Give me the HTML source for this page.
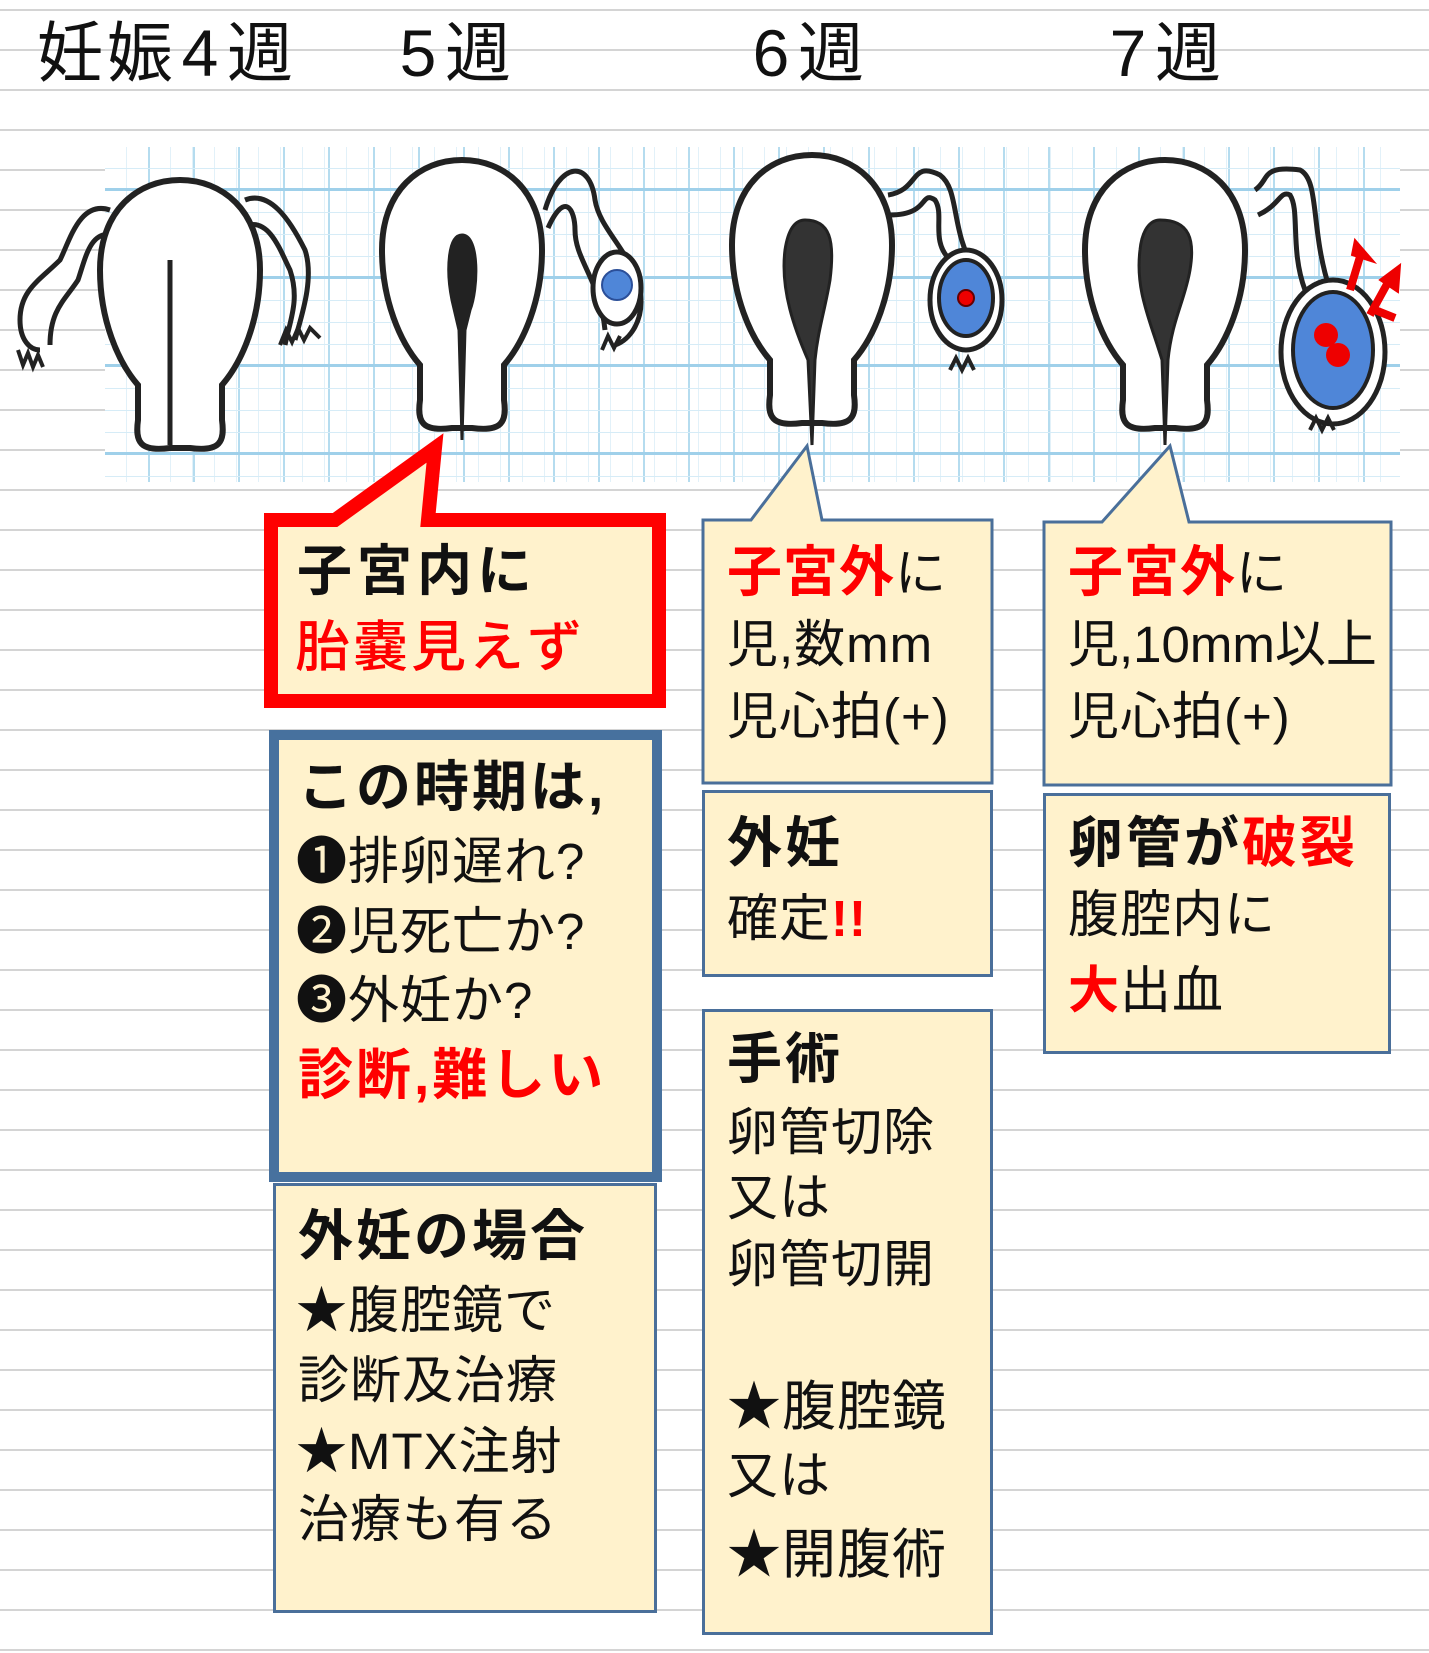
<!DOCTYPE html>
<html><head><meta charset="utf-8"><style>
html,body{margin:0;padding:0}
body{width:1429px;height:1653px;position:relative;overflow:hidden;background:#fff;
background-image:repeating-linear-gradient(to bottom,transparent 0,transparent 9px,#d4d4d4 9px,#d4d4d4 11px,transparent 11px,transparent 40px);
font-family:"Liberation Sans","Noto Sans CJK JP",sans-serif;}
.grid{position:absolute;left:105px;top:147px;width:1295px;height:335px;background-color:#fff;
background-image:
repeating-linear-gradient(to bottom,transparent 0,transparent 41px,#9fd0ea 41px,#9fd0ea 44px,transparent 44px,transparent 88px),
repeating-linear-gradient(to bottom,transparent 0,transparent 21px,#d6ecf7 21px,#d6ecf7 22px),
repeating-linear-gradient(to right,transparent 0,transparent 43px,#b5dcef 43px,#b5dcef 45px),
repeating-linear-gradient(to right,transparent 0,transparent 21px,#e2f1f9 21px,#e2f1f9 22px);}
.t{position:absolute;font-size:51px;line-height:60px;white-space:nowrap;color:#111;letter-spacing:1px}
.b{font-weight:bold;font-size:55px;letter-spacing:3px}
.t .b{font-size:inherit;letter-spacing:inherit}
.r{color:#f00}
.h{position:absolute;font-size:66px;line-height:70px;top:18px;color:#111;white-space:nowrap;letter-spacing:4px}
.box{position:absolute;background:#fff2cc;box-sizing:border-box;border:3px solid #4a6f9a}
</style></head><body>
<div class="grid"></div>
<div class="h" style="left:37px">妊娠<span style="display:inline-block;width:50px;text-align:center">4</span>週</div>
<div class="h" style="left:395px"><span style="display:inline-block;width:50px;text-align:center">5</span>週</div>
<div class="h" style="left:748px"><span style="display:inline-block;width:50px;text-align:center">6</span>週</div>
<div class="h" style="left:1105px"><span style="display:inline-block;width:50px;text-align:center">7</span>週</div>

<svg width="1429" height="500" style="position:absolute;left:0;top:0" xmlns="http://www.w3.org/2000/svg">
<defs>
<path id="u" d="M -10 268 C -40 272 -45 262 -42 240 L -42 205 C -62 182 -80 140 -80 90 C -80 30 -42 0 0 0 C 42 0 80 30 80 90 C 80 140 62 182 42 205 L 42 240 C 45 262 40 272 10 268 Z" fill="#fff" stroke="#222" stroke-width="6"/>
</defs>
<g fill="none" stroke="#222" stroke-width="5">
<path d="M 110 210 C 80 200 70 240 60 260 C 40 280 20 290 20 320 C 20 340 30 350 40 350"/>
<path d="M 112 235 C 90 230 85 260 78 280 C 65 300 50 310 50 345"/>
<path d="M 245 200 C 270 190 290 220 305 250 C 315 280 300 320 295 340"/>
<path d="M 248 225 C 270 220 280 250 290 270 C 300 300 290 320 285 345"/>
<path d="M 545 210 C 560 160 590 160 595 200 C 600 230 630 250 640 290 C 645 320 630 340 615 345"/>
<path d="M 548 228 C 565 190 575 210 575 230 C 575 260 600 280 605 330"/>
<path d="M 888 195 C 920 190 910 160 940 175 C 960 190 950 230 975 270"/>
<path d="M 890 215 C 930 215 920 190 935 200 C 945 215 930 240 950 260"/>
<path d="M 1255 190 C 1270 180 1260 165 1300 170 C 1320 180 1310 230 1330 290"/>
<path d="M 1258 215 C 1280 205 1280 190 1290 195 C 1300 210 1290 250 1305 290"/>
</g>
<ellipse cx="617" cy="288" rx="24" ry="36" fill="#fff" stroke="#222" stroke-width="5"/>
<circle cx="617" cy="285" r="15" fill="#4f86d8" stroke="#2b4f99" stroke-width="2"/>
<ellipse cx="966" cy="300" rx="36" ry="50" fill="#fff" stroke="#222" stroke-width="5"/>
<ellipse cx="966" cy="298" rx="27" ry="38" fill="#4f86d8" stroke="#222" stroke-width="4"/>
<circle cx="966" cy="298" r="8" fill="#e00" stroke="#600" stroke-width="2"/>
<ellipse cx="1333" cy="352" rx="52" ry="72" fill="#fff" stroke="#222" stroke-width="5"/>
<ellipse cx="1333" cy="350" rx="40" ry="58" fill="#4f86d8" stroke="#222" stroke-width="4"/>
<circle cx="1326" cy="335" r="12" fill="#e00"/><circle cx="1338" cy="355" r="12" fill="#e00"/>
<g stroke="#e00" stroke-width="8" fill="#e00">
<line x1="1350" y1="290" x2="1362" y2="250"/><polygon points="1355,240 1374,262 1352,255" stroke-width="2"/>
<line x1="1370" y1="315" x2="1392" y2="275"/><polygon points="1400,265 1398,292 1380,280" stroke-width="2"/>
<line x1="1375" y1="310" x2="1395" y2="318"/>
</g>
<g stroke="#222" stroke-width="4" fill="none">
<path d="M 18 350 l 5 15 l 5 -12 l 5 14 l 5 -12 l 5 12"/>
<path d="M 280 345 l 6 -15 l 6 12 l 6 -14 l 6 12 l 6 -12 l 10 10"/>
<path d="M 602 350 l 6 -14 l 6 12 l 6 -12"/>
<path d="M 950 370 l 6 -12 l 6 12 l 6 -12 l 6 12"/>
<path d="M 1310 430 l 6 -12 l 6 12 l 6 -12 l 6 12"/>
</g>
<use href="#u" x="180" y="180"/>
<use href="#u" x="462" y="160"/>
<use href="#u" x="812" y="155"/>
<use href="#u" x="1165" y="160"/>
<line x1="170" y1="260" x2="170" y2="445" stroke="#222" stroke-width="5"/>
<path d="M 462 235 C 480 235 478 290 470 310 L 465 330 L 462 440 L 459 330 L 452 300 C 446 270 448 235 462 235 Z" fill="#222" stroke="#222" stroke-width="3"/>
<path d="M 805 220 C 830 220 835 240 830 280 C 825 310 818 330 815 360 L 812 445 L 808 360 C 795 330 780 290 785 250 C 788 230 795 220 805 220 Z" fill="#333" stroke="#222" stroke-width="3"/>
<path d="M 1160 220 C 1190 220 1195 240 1190 270 C 1185 300 1172 320 1168 360 L 1165 445 L 1162 360 C 1150 320 1135 290 1140 250 C 1142 230 1150 220 1160 220 Z" fill="#333" stroke="#222" stroke-width="3"/>
</svg>

<svg width="1429" height="800" style="position:absolute;left:0;top:0" xmlns="http://www.w3.org/2000/svg">
<path d="M 271 520 L 335 520 L 435 448 L 428 520 L 659 520 L 659 701 L 271 701 Z" fill="#fff2cc" stroke="#f00" stroke-width="14" stroke-linejoin="miter"/>
<path d="M 703 520 L 751 520 L 807 446 L 822 520 L 992 520 L 992 783 L 703 783 Z" fill="#fff2cc" stroke="#4a6f9a" stroke-width="3"/>
<path d="M 1044 522 L 1102 522 L 1170 446 L 1189 522 L 1391 522 L 1391 785 L 1044 785 Z" fill="#fff2cc" stroke="#4a6f9a" stroke-width="3"/>
</svg>

<div class="t b" style="left:297px;top:541px;letter-spacing:5px">子宮内に</div>
<div class="t r" style="left:295px;top:617px;font-size:55px;letter-spacing:3px;font-weight:500">胎嚢見えず</div>

<div class="box" style="left:269px;top:730px;width:393px;height:452px;border:10px solid #47719e"></div>
<div class="t b" style="left:298px;top:757px">この時期は,</div>
<div class="t" style="left:296px;top:832px">❶排卵遅れ?</div>
<div class="t" style="left:296px;top:902px">❷児死亡か?</div>
<div class="t" style="left:296px;top:971px">❸外妊か?</div>
<div class="t r b" style="left:298px;top:1045px">診断,難しい</div>

<div class="box" style="left:273px;top:1183px;width:384px;height:430px"></div>
<div class="t b" style="left:298px;top:1206px">外妊の場合</div>
<div class="t" style="left:296px;top:1281px">★腹腔鏡で</div>
<div class="t" style="left:298px;top:1351px">診断及治療</div>
<div class="t" style="left:296px;top:1422px">★MTX注射</div>
<div class="t" style="left:298px;top:1490px">治療も有る</div>

<div class="t" style="left:727px;top:542px"><span class="r b" style="font-size:55px">子宮外</span>に</div>
<div class="t" style="left:727px;top:615px">児,数mm</div>
<div class="t" style="left:727px;top:687px">児心拍(+)</div>

<div class="box" style="left:702px;top:790px;width:291px;height:187px"></div>
<div class="t b" style="left:727px;top:813px">外妊</div>
<div class="t" style="left:727px;top:889px">確定<span class="r b">!!</span></div>

<div class="box" style="left:702px;top:1009px;width:291px;height:626px"></div>
<div class="t b" style="left:727px;top:1029px">手術</div>
<div class="t" style="left:727px;top:1103px">卵管切除</div>
<div class="t" style="left:727px;top:1168px">又は</div>
<div class="t" style="left:727px;top:1235px">卵管切開</div>
<div class="t" style="left:727px;top:1377px;font-size:54px">★腹腔鏡</div>
<div class="t" style="left:727px;top:1446px">又は</div>
<div class="t" style="left:727px;top:1525px;font-size:54px">★開腹術</div>

<div class="t" style="left:1068px;top:542px"><span class="r b" style="font-size:55px">子宮外</span>に</div>
<div class="t" style="left:1068px;top:615px;letter-spacing:0">児,10mm以上</div>
<div class="t" style="left:1068px;top:687px">児心拍(+)</div>

<div class="box" style="left:1043px;top:793px;width:348px;height:261px"></div>
<div class="t b" style="left:1068px;top:813px">卵管が<span class="r">破裂</span></div>
<div class="t" style="left:1068px;top:885px">腹腔内に</div>
<div class="t" style="left:1068px;top:961px"><span class="r b">大</span>出血</div>
</body></html>
